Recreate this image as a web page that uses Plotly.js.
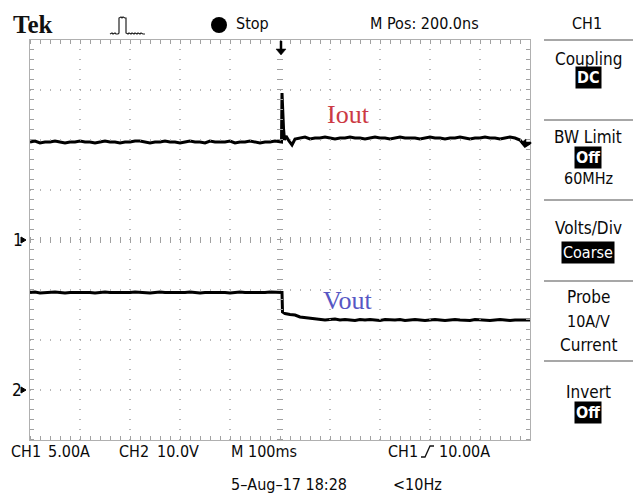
<!DOCTYPE html>
<html>
<head>
<meta charset="utf-8">
<script src="https://cdn.plot.ly/plotly-3.0.1.min.js"></script>
<style>html,body{margin:0;padding:0;background:#fff;}#chart{width:633px;height:493px;}</style>
</head>
<body>
<div id="chart"></div>
<script>
// CH1 Iout: time (ms) and current (A), 5 A/div
const iTime = [-500,-490,-480,-470,-460,-450,-440,-430,-420,-410,-400,-390,-380,-370,-360,-350,-340,-330,-320,-310,-300,-290,-280,-270,-260,-250,-240,-230,-220,-210,-200,-190,-180,-170,-160,-150,-140,-130,-120,-110,-100,-90,-80,-70,-60,-50,-40,-30,-20,-10,
  0,3,4,5,7,9,12,18,24,30,
  40,50,60,70,80,90,100,110,120,130,140,150,160,170,180,190,200,210,220,230,240,250,260,270,280,290,300,310,320,330,340,350,360,370,380,390,400,410,420,430,440,450,460,470,480,490,500];
const iAmps = [9.8,9.9,9.7,9.8,9.8,9.9,9.8,9.7,9.8,9.8,9.9,9.8,9.8,9.7,9.8,9.9,9.8,9.8,9.7,9.8,9.8,9.9,9.9,9.8,9.7,9.8,9.8,9.9,9.8,9.8,9.7,9.8,9.9,9.8,9.8,9.7,9.9,9.8,9.8,9.8,9.9,9.7,9.8,9.8,9.9,9.8,9.7,9.8,9.8,9.9,
  9.8,9.8,14.7,13.0,11.2,10.0,10.4,9.9,9.5,10.1,
  10.2,10.3,10.1,10.2,10.2,10.3,10.2,10.1,10.2,10.2,10.3,10.2,10.2,10.1,10.2,10.3,10.2,10.2,10.1,10.2,10.3,10.2,10.2,10.2,10.1,10.2,10.3,10.2,10.2,10.1,10.2,10.2,10.3,10.2,10.1,10.2,10.2,10.3,10.2,10.2,10.1,10.2,10.3,10.2,10.0,9.4,9.7];
// CH2 Vout: time (ms) and voltage (V), 10 V/div
const vTime = [-500,-490,-480,-470,-460,-450,-440,-430,-420,-410,-400,-390,-380,-370,-360,-350,-340,-330,-320,-310,-300,-290,-280,-270,-260,-250,-240,-230,-220,-210,-200,-190,-180,-170,-160,-150,-140,-130,-120,-110,-100,-90,-80,-70,-60,-50,-40,-30,-20,-10,0,
  4,5,10,20,30,40,50,60,
  70,80,90,100,110,120,130,140,150,160,170,180,190,200,210,220,230,240,250,260,270,280,290,300,310,320,330,340,350,360,370,380,390,400,410,420,430,440,450,460,470,480,490,500];
const vVolts = [19.5,19.6,19.4,19.5,19.5,19.6,19.5,19.4,19.5,19.5,19.6,19.5,19.5,19.4,19.5,19.6,19.5,19.5,19.4,19.5,19.5,19.6,19.5,19.5,19.4,19.5,19.6,19.5,19.5,19.4,19.5,19.5,19.6,19.5,19.4,19.5,19.5,19.6,19.5,19.5,19.4,19.5,19.6,19.5,19.5,19.4,19.5,19.5,19.6,19.5,19.5,
  19.5,15.6,15.3,15.1,15.0,14.6,14.5,14.3,
  14.2,14.1,14.0,14.1,14.2,14.0,14.1,14.0,13.9,14.1,14.0,14.1,14.0,13.9,14.1,14.0,14.0,14.1,13.9,14.0,14.1,14.0,13.9,14.0,14.1,14.0,13.9,14.0,14.1,14.0,14.0,13.9,14.1,14.0,14.0,13.9,14.0,14.1,14.0,13.9,14.0,14.0,13.9,14.0];

// Side menu labels
const menuTitles = ['Coupling','BW Limit','Volts/Div','Probe','Invert'];

// ---- Layout helpers (pixel -> paper) ----
const L = 30, T = 40, W = 500, H = 400;
const px = x => (x - L) / W;
const py = y => (T + H - y) / H;
const FONT = 'Liberation Sans Narrow, DejaVu Sans Condensed, Arial Narrow, Roboto Condensed, Liberation Sans, sans-serif';
const GRID = '#a0a0a0';

function pathFrom(pts, close) {
  return pts.map((p, i) => (i ? 'L' : 'M') + px(p[0]).toFixed(4) + ',' + py(p[1]).toFixed(4)).join(' ') + (close ? ' Z' : '');
}
function txt(text, x, y, opts) {
  opts = opts || {};
  return Object.assign({
    text: text, xref: 'paper', yref: 'paper', x: px(x), y: py(y),
    xanchor: opts.xanchor || 'left', yanchor: 'middle', showarrow: false,
    font: {family: opts.family || FONT, size: opts.size || 16, color: opts.color || '#0a0a0a'}
  }, opts.extra || {});
}
const inv = {bgcolor:'#000', borderpad:1};

const shapes = [];
// dotted grid
[-400,-300,-200,-100,100,200,300,400].forEach(k => shapes.push({type:'line', xref:'x', yref:'paper', x0:k, x1:k, y0:0, y1:1, line:{color:GRID, width:1.5, dash:'1px,9px'}}));
[-15,-10,-5,5,10,15].forEach(k => shapes.push({type:'line', xref:'paper', yref:'y', x0:0, x1:1, y0:k, y1:k, line:{color:GRID, width:1.5, dash:'1px,9px'}}));
// centre tick lines
shapes.push({type:'line', xref:'paper', yref:'y', x0:0, x1:1, y0:0, y1:0, line:{color:GRID, width:6, dash:'1px,9px'}});
shapes.push({type:'line', xref:'x', yref:'paper', x0:0, x1:0, y0:0, y1:1, line:{color:GRID, width:6, dash:'1px,9px'}});
// border ticks
shapes.push({type:'line', xref:'paper', yref:'paper', x0:0, x1:1, y0:1-2/H, y1:1-2/H, line:{color:GRID, width:4, dash:'1px,9px'}});
shapes.push({type:'line', xref:'paper', yref:'paper', x0:0, x1:1, y0:2/H, y1:2/H, line:{color:GRID, width:4, dash:'1px,9px'}});
shapes.push({type:'line', xref:'paper', yref:'paper', x0:2/W, x1:2/W, y0:0, y1:1, line:{color:GRID, width:4, dash:'1px,9px'}});
shapes.push({type:'line', xref:'paper', yref:'paper', x0:1-2/W, x1:1-2/W, y0:0, y1:1, line:{color:GRID, width:4, dash:'1px,9px'}});
// trigger position arrow (top)
shapes.push({type:'path', xref:'paper', yref:'paper', path: pathFrom([[280,41],[282,41],[282,49],[286,49],[281,55],[276,49],[280,49]], true), fillcolor:'#000', line:{color:'#000', width:0.5}});
// trigger level arrow (right edge)
shapes.push({type:'path', xref:'paper', yref:'paper', path: pathFrom([[521,143],[526,139],[526,142],[531,142],[531,144],[526,144],[526,147]], true), fillcolor:'#000', line:{color:'#000', width:0.5}});
// channel ground markers
shapes.push({type:'path', xref:'paper', yref:'paper', path: pathFrom([[21,237],[26,240],[21,243]], true), fillcolor:'#000', line:{color:'#000', width:1}});
shapes.push({type:'path', xref:'paper', yref:'paper', path: pathFrom([[21,387],[26,390],[21,393]], true), fillcolor:'#000', line:{color:'#000', width:1}});
// header pulse icon
shapes.push({type:'path', xref:'paper', yref:'paper', path: pathFrom([[110,34],[112,33],[113,34],[115,33],[116,34],[118,34],[119,33],[119,18],[121,17],[122,18],[123,17],[125,18],[126,18],[126,33],[128,34],[129,33],[131,34],[132,33],[134,34],[135,33],[137,34],[138,33],[140,34],[141,33],[143,34],[145,34]], false), line:{color:'#222', width:1.2}});
// stop dot
shapes.push({type:'circle', xref:'paper', yref:'paper', x0:px(211), x1:px(227), y0:py(33), y1:py(17), fillcolor:'#000', line:{color:'#000', width:0}});
// right menu separators
[40,120,200,281,361].forEach(y => shapes.push({type:'line', xref:'paper', yref:'paper', x0:px(544), x1:px(633), y0:py(y), y1:py(y), line:{color:'#8a8a8a', width:1.5}}));
// trigger slope symbol in footer
shapes.push({type:'path', xref:'paper', yref:'paper', path: pathFrom([[421,457],[425,457],[430,446],[434,446]], false), line:{color:'#111', width:1.3}});

const ann = [
  txt('<b>Tek</b>', 11, 25, {family:'Liberation Serif, DejaVu Serif, serif', size:25, color:'#111'}),
  txt('Stop', 234, 24, {size:16}),
  txt('M Pos: 200.0ns', 368, 23, {size:16}),
  txt('CH1', 587, 23, {size:16, xanchor:'center'}),
  txt(menuTitles[0], 588, 59, {xanchor:'center', size:17}),
  txt('<b>DC</b>', 588, 77, {xanchor:'center', color:'#fff', extra:inv}),
  txt(menuTitles[1], 588, 137, {xanchor:'center', size:17}),
  txt('<b>Off</b>', 588, 157, {xanchor:'center', color:'#fff', extra:inv}),
  txt('60MHz', 588, 178, {xanchor:'center'}),
  txt(menuTitles[2], 588, 228, {xanchor:'center', size:17}),
  txt('Coarse', 588, 252, {xanchor:'center', color:'#fff', extra:inv}),
  txt(menuTitles[3], 588, 297, {xanchor:'center', size:17}),
  txt('10A/V', 588, 321, {xanchor:'center'}),
  txt('Current', 588, 345, {xanchor:'center', size:17}),
  txt(menuTitles[4], 588, 392, {xanchor:'center', size:17}),
  txt('<b>Off</b>', 588, 412, {xanchor:'center', color:'#fff', extra:inv}),
  txt('1', 11, 240, {size:17}),
  txt('2', 10, 390, {size:17}),
  txt('CH1', 9, 451),
  txt('5.00A', 46, 451),
  txt('CH2', 117, 451),
  txt('10.0V', 155, 451),
  txt('M 100ms', 229, 451),
  txt('CH1', 386, 451),
  txt('10.00A', 437, 451),
  txt('5\u2013Aug\u201317 18:28', 229, 484),
  txt('<10Hz', 391, 484),
  {text:'Iout', xref:'x', yref:'y', x:136, y:12.6, showarrow:false, xanchor:'center', yanchor:'middle', font:{family:'Liberation Serif, DejaVu Serif, serif', size:26, color:'#cc3a44'}},
  {text:'Vout', xref:'x', yref:'y2', x:134, y:18.0, showarrow:false, xanchor:'center', yanchor:'middle', font:{family:'Liberation Serif, DejaVu Serif, serif', size:26, color:'#5757c4'}}
];

const traces = [
  {x:iTime, y:iAmps, type:'scatter', mode:'lines', line:{color:'#000', width:3}, yaxis:'y', hoverinfo:'skip'},
  {x:vTime, y:vVolts, type:'scatter', mode:'lines', line:{color:'#000', width:3}, yaxis:'y2', hoverinfo:'skip'}
];

const layout = {
  width:633, height:493,
  margin:{l:L, r:633-L-W, t:T, b:493-T-H, pad:0},
  paper_bgcolor:'#fff', plot_bgcolor:'#fff',
  showlegend:false,
  xaxis:{range:[-500,500], showgrid:false, zeroline:false, showticklabels:false, ticks:'', showline:true, mirror:true, linecolor:'#b0b0b0', linewidth:1.2, fixedrange:true},
  yaxis:{range:[-20,20], showgrid:false, zeroline:false, showticklabels:false, ticks:'', showline:true, mirror:true, linecolor:'#b0b0b0', linewidth:1.2, fixedrange:true},
  yaxis2:{range:[-10,70], overlaying:'y', showgrid:false, zeroline:false, showticklabels:false, ticks:'', showline:false, fixedrange:true},
  shapes:shapes,
  annotations:ann
};

Plotly.newPlot('chart', traces, layout, {staticPlot:true, displayModeBar:false});
</script>
</body>
</html>
